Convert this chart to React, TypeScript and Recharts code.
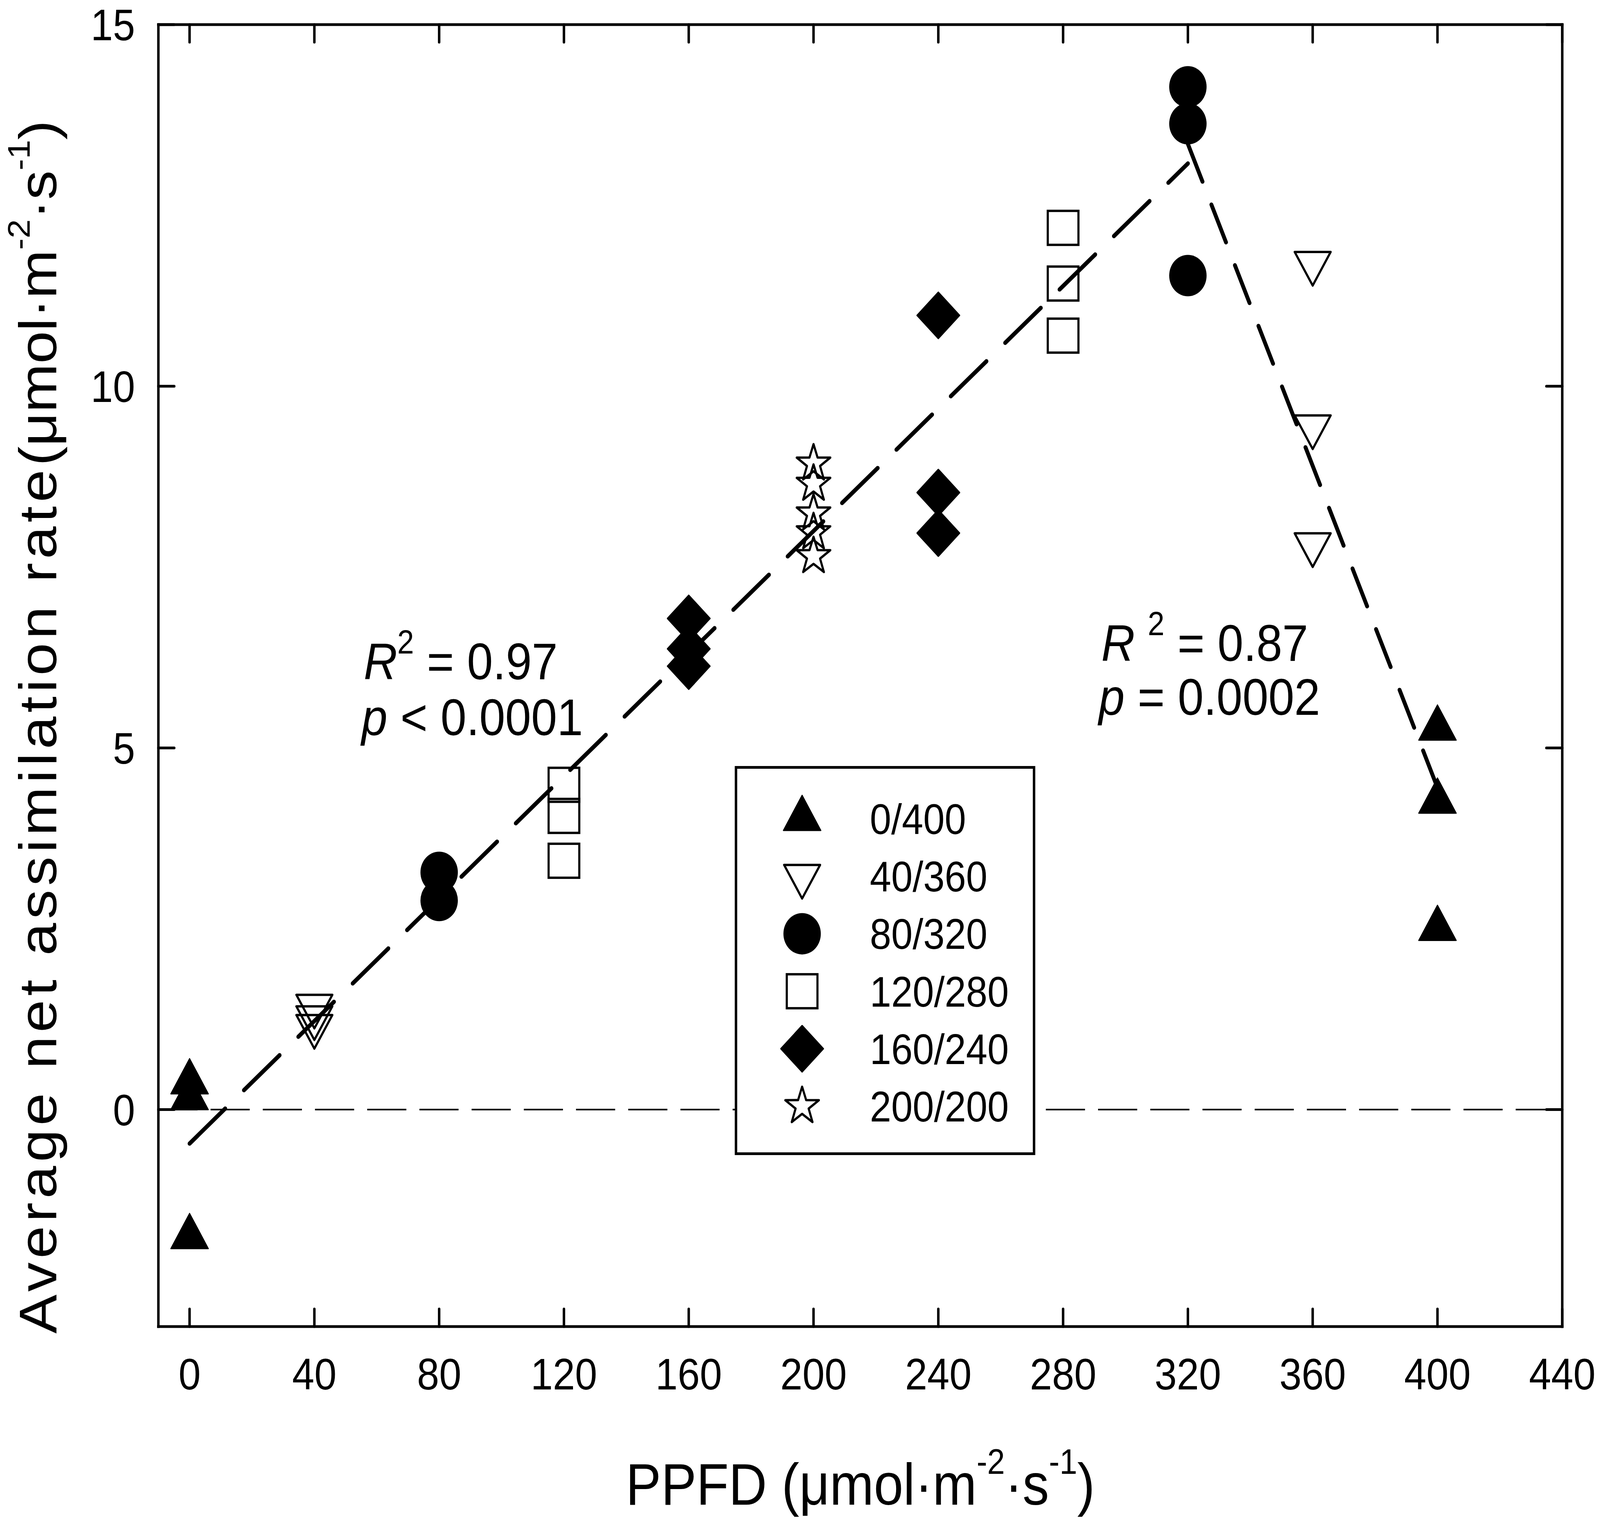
import React from 'react';
import { ScatterChart, Scatter, XAxis, YAxis, ReferenceLine, Legend } from 'recharts';

document.body.style.margin = '0';
document.body.style.overflow = 'hidden';

const FONT = '"Liberation Sans", Arial, Helvetica, sans-serif';
const W = 4536;
const H = 3904;

// treatment names (red/blue PPFD split), in legend order
const treatments = ['0/400', '40/360', '80/320', '120/280', '160/240', '200/200'];
const shapes = ['triUp', 'triDown', 'circle', 'square', 'diamond', 'star'];

const x0_400 = [0, 0, 0, 400, 400, 400];
const y0_400 = [0.38, 0.16, -1.76, 5.27, 4.26, 2.5];
const x40_360 = [40, 40, 40, 360, 360, 360];
const y40_360 = [1.43, 1.27, 1.15, 11.7, 9.44, 7.81];
const x80_320 = [80, 80, 320, 320, 320];
const y80_320 = [3.28, 2.89, 14.14, 13.63, 11.53];
const x120_280 = [120, 120, 120, 280, 280, 280];
const y120_280 = [4.49, 4.06, 3.44, 12.19, 11.42, 10.7];
const x160_240 = [160, 160, 160, 240, 240, 240];
const y160_240 = [6.79, 6.37, 6.13, 10.98, 8.53, 7.97];
const x200_200 = [200, 200, 200, 200, 200];
const y200_200 = [8.93, 8.65, 8.24, 7.98, 7.65];

// the two linear fits
const riseX = [0, 320];
const riseY = [-0.47, 13.08];
const fallX = [320, 400];
const fallY = [13.35, 4.45];

const xDomain = [-10, 440];
const yDomain = [-3, 15];
const xTicks = [0, 40, 80, 120, 160, 200, 240, 280, 320, 360, 400, 440];
const yTicks = [0, 5, 10, 15];

const toPoints = (xs: number[], ys: number[]) => xs.map((x, i) => ({ x, y: ys[i] }));

const seriesData = [
  toPoints(x0_400, y0_400),
  toPoints(x40_360, y40_360),
  toPoints(x80_320, y80_320),
  toPoints(x120_280, y120_280),
  toPoints(x160_240, y160_240),
  toPoints(x200_200, y200_200),
];

function starPoints(cx: number, cy: number, R: number, r: number) {
  const pts: string[] = [];
  for (let i = 0; i < 10; i++) {
    const a = -Math.PI / 2 + (i * Math.PI) / 5;
    const rad = i % 2 === 0 ? R : r;
    pts.push(`${cx + rad * Math.cos(a)},${cy + rad * Math.sin(a)}`);
  }
  return pts.join(' ');
}

function Marker({ kind, cx, cy }: { kind: string; cx: number; cy: number }) {
  switch (kind) {
    case 'triUp':
      return (
        <polygon
          points={`${cx},${cy - 60} ${cx - 53},${cy + 30} ${cx + 53},${cy + 30}`}
          fill="#000" stroke="#000" strokeWidth={3} strokeLinejoin="round"
        />
      );
    case 'triDown':
      return (
        <polygon
          points={`${cx},${cy + 57} ${cx - 51},${cy - 29} ${cx + 51},${cy - 29}`}
          fill="none" stroke="#000" strokeWidth={6} strokeLinejoin="round"
        />
      );
    case 'circle':
      return <circle cx={cx} cy={cy} r={53} fill="#000" />;
    case 'square':
      return (
        <rect x={cx - 43.5} y={cy - 43.5} width={87} height={87}
          fill="none" stroke="#000" strokeWidth={6} />
      );
    case 'diamond':
      return (
        <polygon
          points={`${cx},${cy - 59} ${cx + 60},${cy} ${cx},${cy + 59} ${cx - 60},${cy}`}
          fill="#000" stroke="#000" strokeWidth={4} strokeLinejoin="round"
        />
      );
    default:
      return (
        <polygon points={starPoints(cx, cy, 50, 19.5)}
          fill="none" stroke="#000" strokeWidth={6} strokeLinejoin="round" />
      );
  }
}

// legend keeps the treatment order of the figure, not the payload sort order
const LegendBox = () => (
  <div style={{
    width: 852, height: 996, boxSizing: 'border-box',
    border: '7px solid #000', background: '#fff',
  }}>
    <svg width={838} height={982} style={{ display: 'block' }}>
      {treatments.map((name, i) => {
        const cy = 128 + i * 147.2;
        return (
          <g key={name}>
            <Marker kind={shapes[i]} cx={184} cy={cy} />
            <text x={376} y={cy + 39} fontSize={109} fontFamily={FONT} fill="#000">{name}</text>
          </g>
        );
      })}
    </svg>
  </div>
);

export default function App() {
  // the photographed viewport can be narrower than the nominal window: fit to it
  const vw = typeof window !== 'undefined' ? window.innerWidth : W;
  const vh = typeof window !== 'undefined' ? window.innerHeight : H;
  const kx = vw > 100 ? vw / W : 1;
  const ky = vh > 100 ? vh / H : 1;

  const tickStyle = { fontSize: 113, fill: '#000', fontFamily: FONT };
  const axisLine = { stroke: '#000', strokeWidth: 7, strokeLinecap: 'square' as const };
  const tickLine = { stroke: '#000', strokeWidth: 7, strokeLinecap: 'round' as const };

  return (
    <div style={{ width: W * kx, height: H * ky, overflow: 'hidden', background: '#fff' }}>
      <div style={{ width: W, height: H, transform: `scale(${kx}, ${ky})`, transformOrigin: '0 0' }}>
        <ScatterChart width={W} height={H} margin={{ top: 33, right: 77, bottom: 408, left: 349 }}>
          <XAxis
            type="number" dataKey="x" domain={xDomain} ticks={xTicks} allowDataOverflow
            height={100} tickSize={-45} tickMargin={126} interval={0}
            axisLine={axisLine} tickLine={tickLine} tick={tickStyle}
          />
          <XAxis
            xAxisId="top" orientation="top" type="number" dataKey="x" domain={xDomain} ticks={xTicks}
            allowDataOverflow height={30} tickSize={-45} interval={0}
            axisLine={axisLine} tickLine={tickLine} tick={() => <g />}
          />
          <YAxis
            type="number" dataKey="y" domain={yDomain} ticks={yTicks} allowDataOverflow
            width={100} tickSize={-45} tickMargin={111} interval={0}
            axisLine={axisLine} tickLine={tickLine} tick={tickStyle}
          />
          <YAxis
            yAxisId="right" orientation="right" type="number" dataKey="y" domain={yDomain} ticks={yTicks}
            allowDataOverflow width={30} tickSize={-45} interval={0}
            axisLine={axisLine} tickLine={tickLine} tick={() => <g />}
          />

          <ReferenceLine y={0} stroke="#000" strokeWidth={4} strokeDasharray="111 37" />
          <ReferenceLine
            segment={[{ x: riseX[0], y: riseY[0] }, { x: riseX[1], y: riseY[1] }]}
            stroke="#000" strokeWidth={11} strokeDasharray="135 71" strokeLinecap="round"
          />
          <ReferenceLine
            segment={[{ x: fallX[0], y: fallY[0] }, { x: fallX[1], y: fallY[1] }]}
            stroke="#000" strokeWidth={11} strokeDasharray="105 64" strokeLinecap="round"
          />

          {/* invisible series so the mirrored frame axes get a scale and draw their ticks */}
          <Scatter
            xAxisId="top" yAxisId="right" data={toPoints(xDomain, yDomain)}
            isAnimationActive={false} legendType="none" shape={() => <g />}
          />

          {treatments.map((name, i) => (
            <Scatter
              key={name}
              name={name}
              data={seriesData[i]}
              isAnimationActive={false}
              // eslint-disable-next-line @typescript-eslint/no-explicit-any
              shape={(p: any) => <Marker kind={shapes[i]} cx={p.cx} cy={p.cy} />}
            />
          ))}

          <Legend
            layout="vertical" align="center" verticalAlign="middle"
            wrapperStyle={{ left: 2083, top: 1961, width: 852, height: 996 }}
            content={<LegendBox />}
          />

          {/* fit statistics */}
          <text x={1031} y={1739} fontSize={132} fontFamily={FONT} fill="#000">
            <tspan fontStyle="italic">R</tspan>
            <tspan dy={-66} fontSize={85}>2</tspan>
            <tspan dy={66}>{' = 0.97'}</tspan>
          </text>
          <text x={1025} y={1882} fontSize={132} fontFamily={FONT} fill="#000">
            <tspan fontStyle="italic">p</tspan>
            <tspan>{' < 0.0001'}</tspan>
          </text>
          <text x={3122} y={1692} fontSize={132} fontFamily={FONT} fill="#000">
            <tspan fontStyle="italic">R</tspan>
            <tspan>{' '}</tspan>
            <tspan dy={-66} fontSize={85}>2</tspan>
            <tspan dy={66}>{' = 0.87'}</tspan>
          </text>
          <text x={3115} y={1830} fontSize={132} fontFamily={FONT} fill="#000">
            <tspan fontStyle="italic">p</tspan>
            <tspan>{' = 0.0002'}</tspan>
          </text>

          {/* axis titles */}
          <text x={2439} y={3852} textAnchor="middle" fontSize={150} fontFamily={FONT} fill="#000">
            <tspan>PPFD (μmol·m</tspan>
            <tspan dy={-79} fontSize={90}>-2</tspan>
            <tspan dy={79}>·s</tspan>
            <tspan dy={-79} fontSize={90}>-1</tspan>
            <tspan dy={79}>)</tspan>
          </text>
          <text transform="translate(160,1861) rotate(-90)" textAnchor="middle"
            fontSize={150} fontFamily={FONT} fill="#000">
            <tspan letterSpacing={10}>Average net assimilation rate</tspan>
            <tspan>(μmol·m</tspan>
            <tspan dy={-76} fontSize={88}>-2</tspan>
            <tspan dy={76}>·s</tspan>
            <tspan dy={-76} fontSize={88}>-1</tspan>
            <tspan dy={76}>)</tspan>
          </text>
        </ScatterChart>
      </div>
    </div>
  );
}
